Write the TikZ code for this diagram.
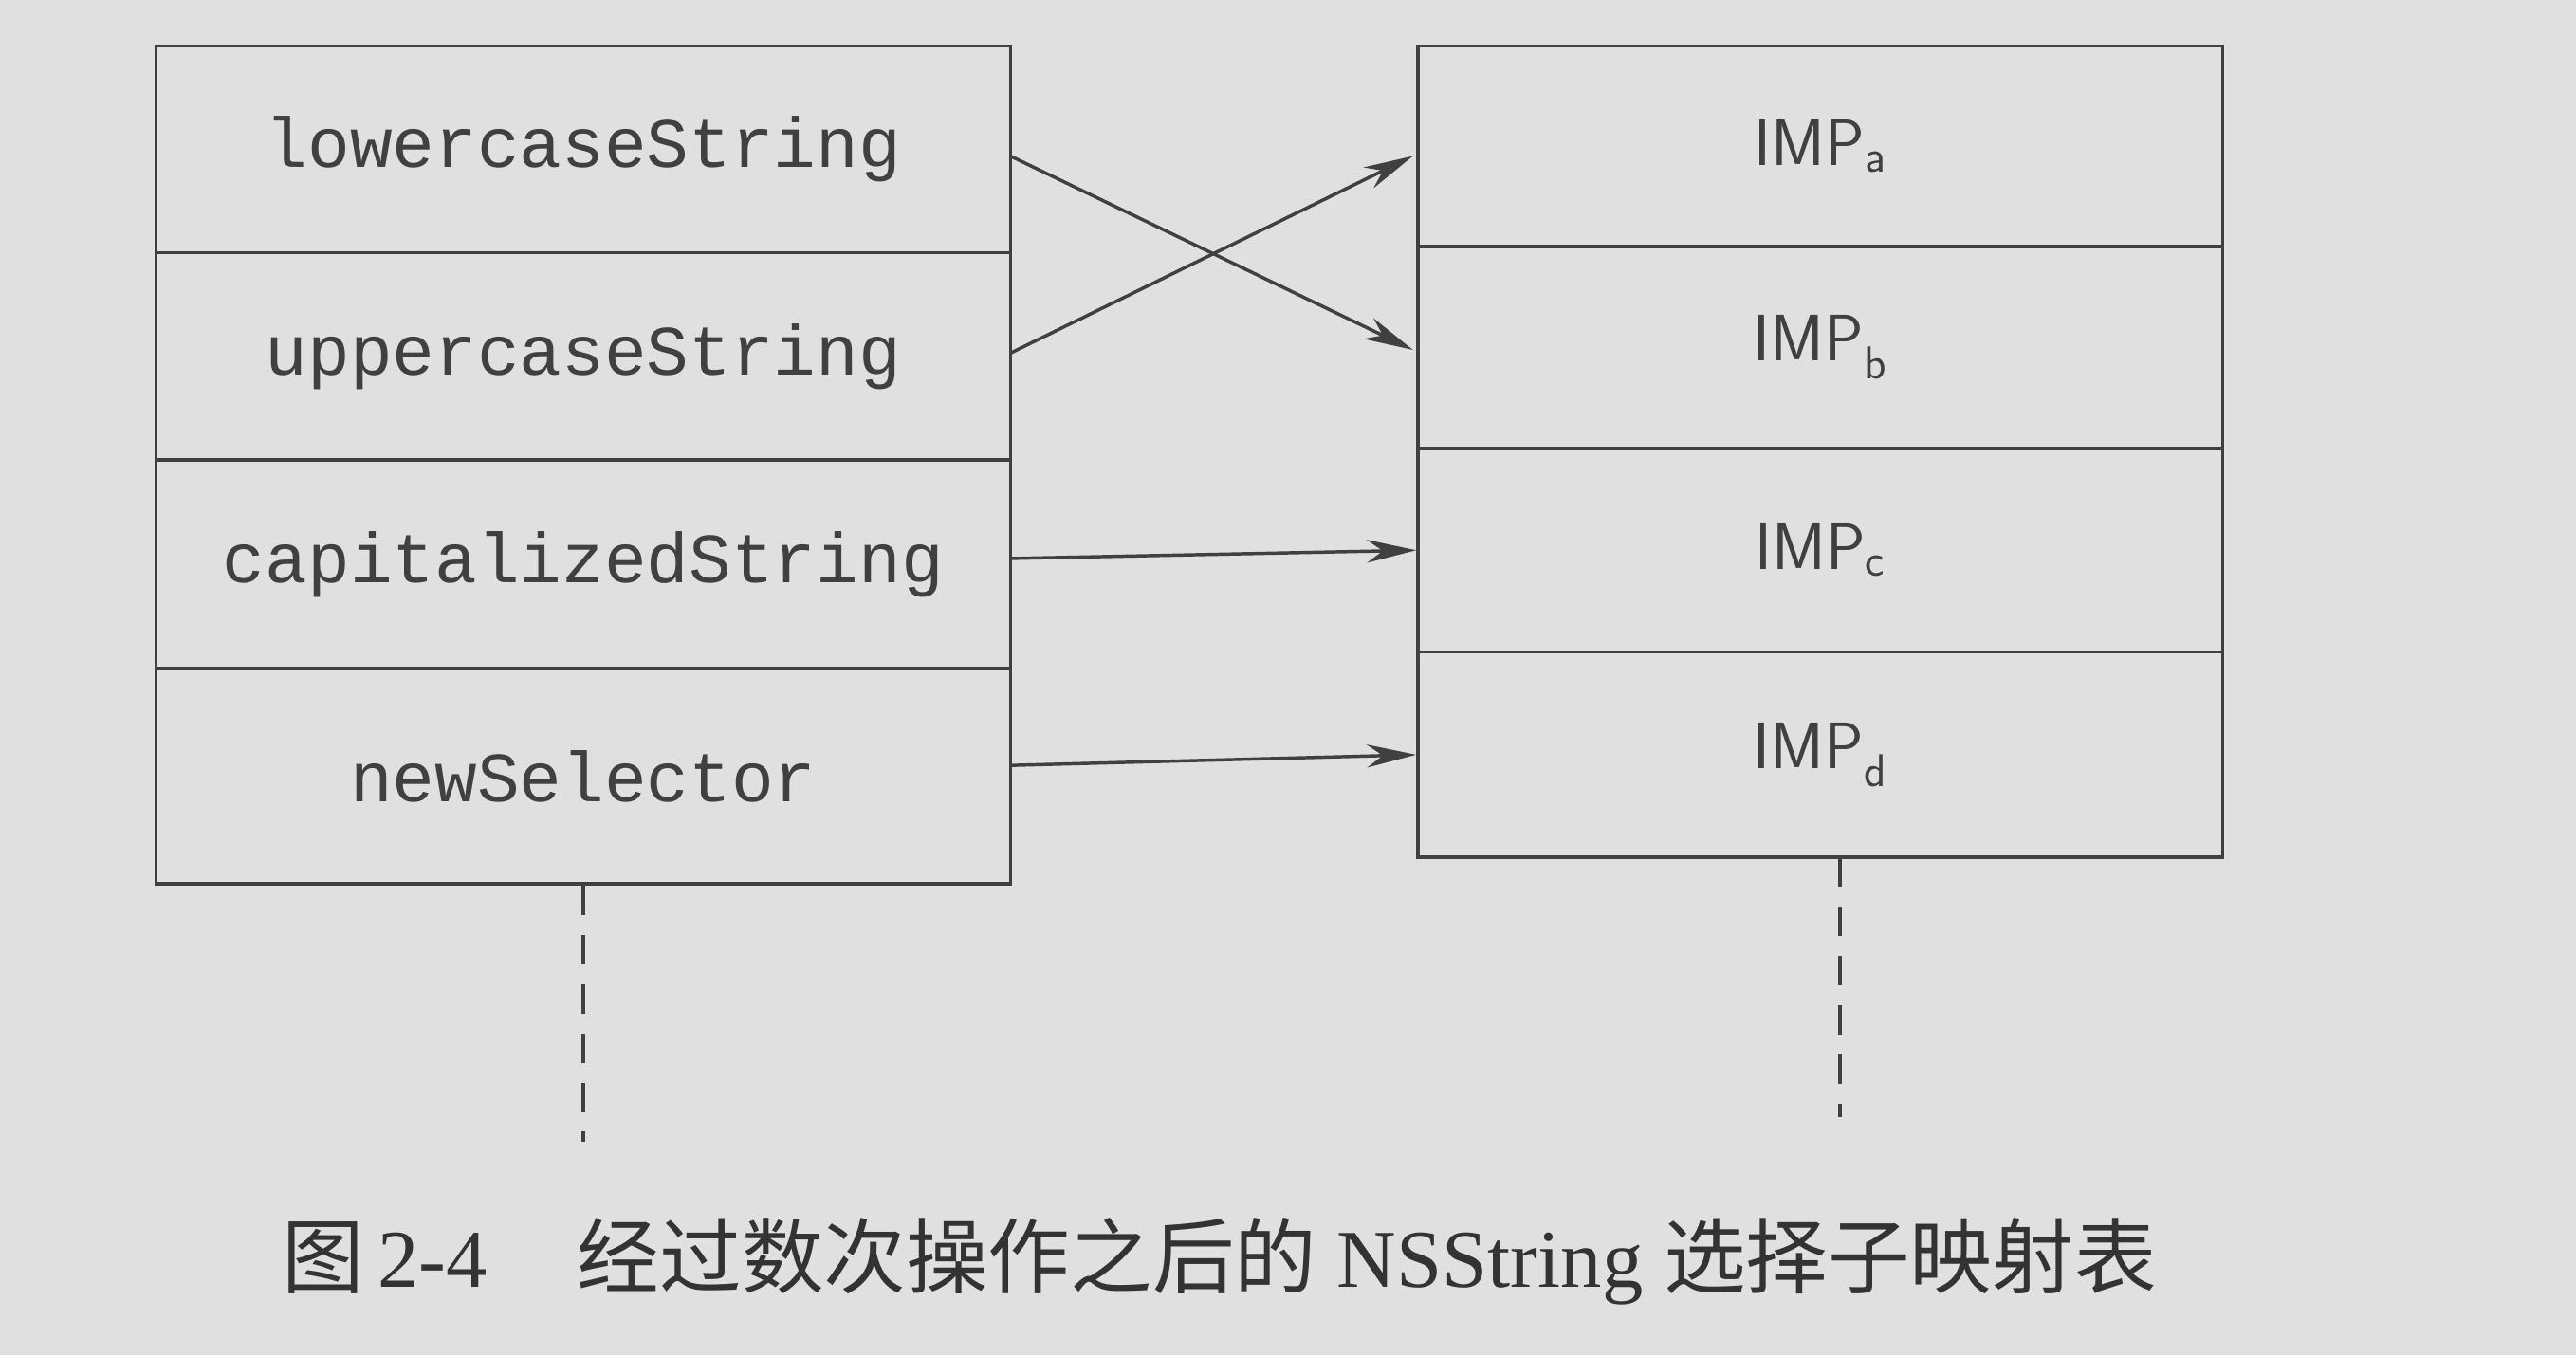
\documentclass[tikz,border=0pt]{standalone}
\usepackage{fontspec}
\setmainfont{Liberation Serif}
\setmonofont{Liberation Mono}
\newfontfamily\cjk{Noto Sans CJK SC}
\usetikzlibrary{arrows.meta}
\begin{document}
\begin{tikzpicture}[x=1pt,y=-1pt,
  cell/.style={draw=black!75,line width=2pt,minimum width=520pt,inner sep=0pt,font=\ttfamily\fontsize{43}{43}\selectfont,text=black!75},
  rcell/.style={draw=black!75,line width=2pt,minimum width=490pt,inner sep=0pt,font=\sffamily\fontsize{40}{40}\selectfont,text=black!75},
  arr/.style={draw=black!75,line width=2pt,-{Stealth[length=30pt,width=14pt]}},
  dashline/.style={draw=black!75,line width=2.5pt,dash pattern=on 18pt off 12pt}]
\fill[black!12] (0,0) rectangle (1568,825);
\useasboundingbox (0,0) rectangle (1568,825);
\node[cell,minimum height=126pt] (l1) at (355,91) {lowercaseString};
\node[cell,minimum height=126pt] (l2) at (355,217) {uppercaseString};
\node[cell,minimum height=127pt] (l3) at (355,343.5) {capitalizedString};
\node[cell,minimum height=131pt] (l4) at (355,472.5) {newSelector};
\node[rcell,minimum height=122pt] (r1) at (1108,89) {IMP\textsubscript{a}};
\node[rcell,minimum height=123pt] (r2) at (1108,211.5) {IMP\textsubscript{b}};
\node[rcell,minimum height=124pt] (r3) at (1108,335) {IMP\textsubscript{c}};
\node[rcell,minimum height=125pt] (r4) at (1108,459.5) {IMP\textsubscript{d}};
\coordinate (a1) at (615,95); \coordinate (b1) at (860,213);
\coordinate (a2) at (615,215); \coordinate (b2) at (860,95);
\coordinate (a3) at (615,340); \coordinate (a4) at (615,466);
\draw[arr] (a1) -- (b1);
\draw[arr] (a2) -- (b2);
\draw[arr] (a3) -- (r3.west);
\draw[arr] (a4) -- (r4.west);
\coordinate (d1) at (355,695); \coordinate (d2) at (1120,680);
\draw[dashline] (l4.south) -- (d1);
\draw[dashline] (1120,522) -- (d2);
\node[anchor=west,font=\fontsize{50}{50}\selectfont,text=black!80] (cap) at (168,768) {{\cjk 图}\,2-4\hspace{55pt}{\cjk 经过数次操作之后的} NSString {\cjk 选择子映射表}};
\end{tikzpicture}
\end{document}
